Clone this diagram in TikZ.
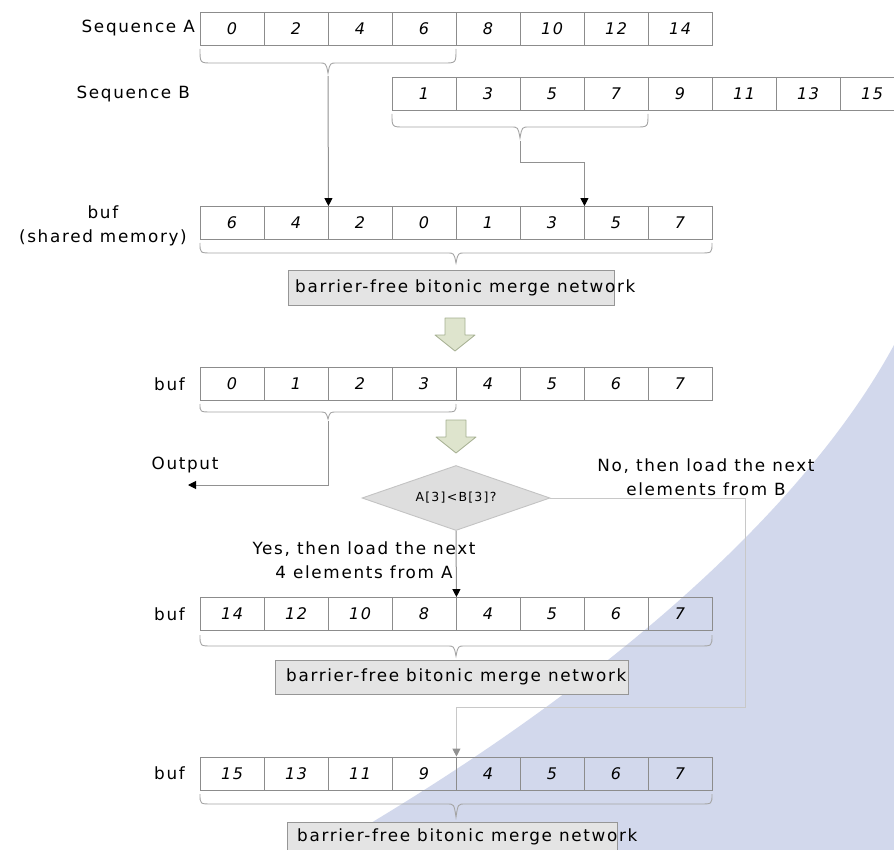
\documentclass[tikz,border=0pt]{standalone}
\usepackage{fontspec}
\setmainfont{DejaVu Sans}[LetterSpace=10]
\usetikzlibrary{arrows.meta,shapes.geometric}
\definecolor{cellline}{RGB}{140,140,140}
\definecolor{linegray}{RGB}{145,145,145}
\definecolor{bracegray}{RGB}{165,165,165}
\definecolor{boxfill}{RGB}{228,228,228}
\definecolor{boxline}{RGB}{150,150,150}
\definecolor{diafill}{RGB}{222,222,222}
\definecolor{dialine}{RGB}{195,195,195}
\definecolor{fatfill}{RGB}{222,228,205}
\definecolor{fatline}{RGB}{165,175,145}
\definecolor{swooshc}{RGB}{210,216,236}
\definecolor{nogray}{RGB}{200,200,200}
\newcommand\mybrc[6]{\draw[bracel] (#1,#4) .. controls (#1,#5) .. (#1+12,#5) -- (#3-9,#5) .. controls (#3-2,#5) .. (#3,#6) .. controls (#3+2,#5) .. (#3+9,#5) -- (#2-12,#5) .. controls (#2,#5) .. (#2,#4);}
\begin{document}
\begin{tikzpicture}[x=1pt,y=1pt,
  cell/.style={draw=cellline, line width=0.9pt, minimum width=64pt, minimum height=33pt, inner sep=0pt, font=\itshape\fontsize{16}{16}\selectfont},
  lbl/.style={font=\fontsize{16.8}{24}\selectfont, inner sep=0pt},
  bracel/.style={draw=bracegray, line width=0.9pt},
  conn/.style={draw=linegray, line width=1pt, -{Triangle[length=8pt,width=8pt,color=black]}},
  noconn/.style={draw=nogray, line width=1pt, -{Triangle[length=8pt,width=8pt,color=linegray]}},
  netbox/.style={draw=boxline, fill=boxfill, line width=0.9pt, inner sep=0pt},
  fatarrow/.style={draw=fatline, fill=fatfill, line width=0.8pt, line join=round},
  dia/.style={diamond, draw=dialine, fill=diafill, line width=0.9pt, minimum width=188pt, minimum height=65pt, inner sep=0pt, aspect=2.9, font=\fontsize{12.5}{13}\selectfont}
]
\useasboundingbox (0,0) rectangle (894,-850);
% background swoosh
\fill[swooshc] (894,-345) .. controls (810,-500) and (620,-680) .. (325,-850) -- (894,-850) -- cycle;

% Sequence A
\node[lbl, anchor=east] (labA) at (195,-28.5) {Sequence A};
\foreach \v [count=\i] in {0,2,4,6,8,10,12,14}
  \node[cell] (a\i) at ({200+64*\i-32},-28.5) {\v};
% Sequence B
\node[lbl, anchor=east] (labB) at (190,-94) {Sequence B};
\foreach \v [count=\i] in {1,3,5,7,9,11,13,15}
  \node[cell] (b\i) at ({392+64*\i-32},-94) {\v};

% buf row 1
\node[lbl, anchor=east, align=center] (labR1) at (187,-226) {buf\\(shared memory)};
\foreach \v [count=\i] in {6,4,2,0,1,3,5,7}
  \node[cell] (ra\i) at ({200+64*\i-32},-223) {\v};
% buf row 2
\node[lbl, anchor=east] (labR2) at (185,-384) {buf};
\foreach \v [count=\i] in {0,1,2,3,4,5,6,7}
  \node[cell] (rb\i) at ({200+64*\i-32},-384) {\v};
% buf row 3
\node[lbl, anchor=east] (labR3) at (185,-614) {buf};
\foreach \v [count=\i] in {14,12,10,8,4,5,6,7}
  \node[cell] (rc\i) at ({200+64*\i-32},-614) {\v};
% buf row 4
\node[lbl, anchor=east] (labR4) at (185,-773.5) {buf};
\foreach \v [count=\i] in {15,13,11,9,4,5,6,7}
  \node[cell] (rd\i) at ({200+64*\i-32},-773.5) {\v};

% braces
\mybrc{200}{456}{328}{-49}{-63}{-73}
\coordinate (atip) at (328,-76);
\mybrc{392}{648}{520}{-114}{-127}{-138}
\coordinate (btip) at (520,-141);
\mybrc{200}{712}{456}{-243}{-253}{-263}
\mybrc{200}{456}{328}{-404}{-412}{-419}
\coordinate (r2tip) at (328,-421);
\mybrc{200}{712}{456}{-635}{-646}{-656}
\mybrc{200}{712}{456}{-794}{-804}{-817}

% merge network boxes
\node[netbox, minimum width=326pt, minimum height=35pt] (net1) at (451,-287.5) {};
\node[lbl, anchor=west] (net1t) at (295,-287.5) {barrier-free bitonic merge network};
\node[netbox, minimum width=353pt, minimum height=34pt] (net3) at (451.5,-677) {};
\node[lbl, anchor=west] (net3t) at (286,-677) {barrier-free bitonic merge network};
\node[netbox, minimum width=330pt, minimum height=40pt] (net4) at (452,-842) {};
\node[lbl, anchor=west] (net4t) at (297,-837) {barrier-free bitonic merge network};

% fat arrows
\draw[fatarrow] (445,-318) -- (465,-318) -- (465,-335) -- (475,-335) -- (455,-351) -- (435,-335) -- (445,-335) -- cycle;
\draw[fatarrow] (446,-420) -- (466,-420) -- (466,-437) -- (476,-437) -- (456,-453) -- (436,-437) -- (446,-437) -- cycle;

% decision
\node[dia] (dia) at (456,-498) {A[3]<B[3]?};

% connectors
\draw[conn] (atip) -- (ra2.north east);
\draw[conn] (btip) -- ++(0,-22) -| (ra6.north east);
\coordinate (outend) at (188,-485);
\draw[conn] (r2tip) |- (outend);
\node[lbl, anchor=center] (outlbl) at (185,-465) {Output};
\draw[conn] (dia.south) -- (rc4.north east);
\node[lbl, align=center] (yeslbl) at (364,-560) {Yes, then load the next\\4 elements from A};
\coordinate (nocorner) at (745,-707);
\draw[noconn] (dia.east) -| (nocorner) -| (rd4.north east);
\node[lbl, align=center] (nolbl) at (706,-477) {No, then load the next\\elements from B};
\end{tikzpicture}
\end{document}
